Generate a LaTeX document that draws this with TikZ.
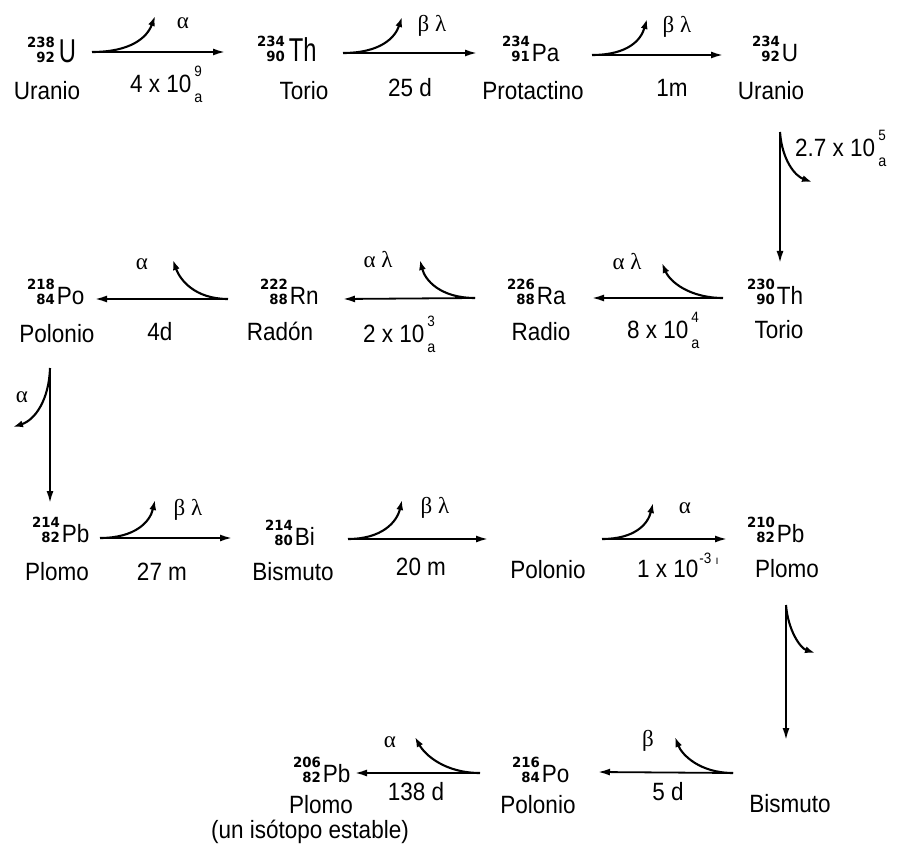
\documentclass[tikz,border=0pt]{standalone}
\usepackage{fontspec}
\usepackage{graphicx}
\usetikzlibrary{arrows.meta}
\setmainfont{Liberation Sans}[FakeStretch=0.9]
\newfontfamily\grkfont{Liberation Serif}
\newfontfamily\scrfont{DejaVu Sans}[FakeStretch=0.95]
\newcommand\nucl[3]{{\scrfont\bfseries\fontsize{14}{15}\selectfont\begin{tabular}[b]{@{}r@{}}#1\\#2\end{tabular}}\hspace{2pt}{\fontsize{25}{28}\selectfont #3}}
\newcommand\nuclbig[3]{{\scrfont\bfseries\fontsize{14}{15}\selectfont\begin{tabular}[b]{@{}r@{}}#1\\#2\end{tabular}}\hspace{4pt}\scalebox{0.8}[1]{\fontsize{33}{36}\selectfont #3}}
\newcommand\supsub[2]{\hspace{3pt}\makebox[0pt][l]{\raisebox{16pt}{\fontsize{15}{15}\selectfont #1}}\raisebox{-10pt}{\fontsize{16}{16}\selectfont #2}}
\tikzset{
  nuc/.style={anchor=base west, inner sep=0pt},
  nm/.style={anchor=base, inner sep=0pt, font=\fontsize{25}{28}\selectfont},
  hl/.style={anchor=base, inner sep=0pt, font=\fontsize{25}{28}\selectfont},
  hlw/.style={anchor=base west, inner sep=0pt, font=\fontsize{25}{28}\selectfont},
  grk/.style={anchor=base, inner sep=0pt, font=\grkfont\fontsize{23}{26}\selectfont},
  arr/.style={line width=1.8pt, -{Latex[length=12pt,width=7pt]}},
  br/.style={line width=2.1pt, -{Latex[length=10pt,width=7pt]}},
}
\begin{document}
\begin{tikzpicture}[x=1pt,y=-1pt]
\useasboundingbox (0,0) rectangle (900,845);
% ---------- nuclides ----------
\node[nuc] (u238)  at (27,63)  {\nuclbig{238}{92}{U}};
\node[nuc] (th234) at (257,62) {\nuclbig{234}{90}{Th}};
\node[nuc] (pa234) at (502,62) {\nucl{234}{91}{Pa}};
\node[nuc] (u234)  at (752,62) {\nucl{234}{92}{U}};
\node[nuc] (th230) at (747,305) {\nucl{230}{90}{Th}};
\node[nuc] (ra226) at (507,305) {\nucl{226}{88}{Ra}};
\node[nuc] (rn222) at (260,305) {\nucl{222}{88}{Rn}};
\node[nuc] (po218) at (27,305) {\nucl{218}{84}{Po}};
\node[nuc] (pb214) at (32,542) {\nucl{214}{82}{Pb}};
\node[nuc] (bi214) at (265,545) {\nucl{214}{80}{Bi}};
\node[nuc] (pb210) at (747,542) {\nucl{210}{82}{Pb}};
\node[nuc] (po216) at (512,782) {\nucl{216}{84}{Po}};
\node[nuc] (pb206) at (293,782) {\nucl{206}{82}{Pb}};
% ---------- names ----------
\node[nm] (n1) at (47,100) {Uranio};
\node[nm] (n2) at (304,100) {Torio};
\node[nm] (n3) at (533,100) {Protactino};
\node[nm] (n4) at (771,100) {Uranio};
\node[nm] (n5) at (779,338) {Torio};
\node[nm] (n6) at (541,340) {Radio};
\node[nm] (n7) at (280,340) {Radón};
\node[nm] (n8) at (57,342) {Polonio};
\node[nm] (n9) at (57,580) {Plomo};
\node[nm] (n10) at (293,580) {Bismuto};
\node[nm] (n11) at (548,578) {Polonio};
\node[nm] (n12) at (787,577) {Plomo};
\node[nm] (n13) at (790,812) {Bismuto};
\node[nm] (n14) at (538,813) {Polonio};
\node[nm] (n15) at (321,813) {Plomo};
\node[nm] (n16) at (310,838) {(un isótopo estable)};
% ---------- half-lives ----------
\node[hlw] (h1) at (130,93) {4 x 10\supsub{9}{a}};
\node[hl] (h2) at (410,97) {25 d};
\node[hl] (h3) at (672,97) {1m};
\node[hlw] (h4) at (795,157) {2.7 x 10\supsub{5}{a}};
\node[hlw] (h5) at (627,338) {8 x 10\supsub{4}{a}};
\node[hlw] (h6) at (363,342) {2 x 10\supsub{3}{a}};
\node[hl] (h7) at (160,340) {4d};
\node[hl] (h8) at (162,580) {27 m};
\node[hl] (h9) at (421,575) {20 m};
\node[hlw] (h10) at (637,577) {1 x 10\hspace{1pt}\raisebox{14pt}{\fontsize{15}{15}\selectfont -3}\hspace{4pt}\raisebox{13pt}{\fontsize{12}{12}\selectfont ı}};
\node[hl] (h11) at (668,800) {5 d};
\node[hl] (h12) at (416,800) {138 d};
% ---------- particle labels ----------
\node[grk] (g1) at (183,29) {α};
\node[grk] (g2) at (432,32) {β λ};
\node[grk] (g3) at (677,33) {β λ};
\node[grk] (g4) at (627,270) {α λ};
\node[grk] (g5) at (378,268) {α λ};
\node[grk] (g6) at (142,270) {α};
\node[grk] (g7) at (22,402) {α};
\node[grk] (g8) at (188,515) {β λ};
\node[grk] (g9) at (435,513) {β λ};
\node[grk] (g10) at (685,513) {α};
\node[grk] (g11) at (648,746) {β};
\node[grk] (g12) at (390,747) {α};
% ---------- arrow coordinates ----------
\coordinate (a1s) at (92,52);   \coordinate (a1e) at (225,52);  \coordinate (b1) at (155,16);
\coordinate (a2s) at (343,53);  \coordinate (a2e) at (477,53);  \coordinate (b2) at (402,17);
\coordinate (a3s) at (592,55);  \coordinate (a3e) at (723,55);  \coordinate (b3) at (647,19);
\coordinate (v1s) at (780,132); \coordinate (v1e) at (780,263); \coordinate (c1) at (812,182);
\coordinate (a4s) at (723,298); \coordinate (a4e) at (592,298); \coordinate (b4) at (662,263);
\coordinate (a5s) at (475,298); \coordinate (a5e) at (343,299); \coordinate (b5) at (420,260);
\coordinate (a6s) at (228,299); \coordinate (a6e) at (95,299);  \coordinate (b6) at (173,260);
\coordinate (v2s) at (50,368);  \coordinate (v2e) at (50,503);  \coordinate (c2) at (13,427);
\coordinate (a7s) at (100,538); \coordinate (a7e) at (232,538); \coordinate (b7) at (155,500);
\coordinate (a8s) at (348,539); \coordinate (a8e) at (488,539); \coordinate (b8) at (402,500);
\coordinate (a9s) at (602,539); \coordinate (a9e) at (727,539); \coordinate (b9) at (653,503);
\coordinate (v3s) at (786,605); \coordinate (v3e) at (786,740); \coordinate (c3) at (815,653);
\coordinate (a10s) at (733,773); \coordinate (a10e) at (598,772); \coordinate (b10) at (675,737);
\coordinate (a11s) at (480,773); \coordinate (a11e) at (355,773); \coordinate (b11) at (415,737);
% ---------- arrows ----------
\draw[arr] (a1s) -- (a1e);
\draw[br] (a1s) .. controls (130,52) and (147,38) .. (b1);
\draw[arr] (a2s) -- (a2e);
\draw[br] (a2s) .. controls (380,53) and (395,38) .. (b2);
\draw[arr] (a3s) -- (a3e);
\draw[br] (a3s) .. controls (628,55) and (641,40) .. (b3);
\draw[arr] (v1s) -- (v1e);
\draw[br] (v1s) .. controls (782,160) and (795,176) .. (c1);
\draw[arr] (a4s) -- (a4e);
\draw[br] (a4s) .. controls (690,298) and (670,282) .. (b4);
\draw[arr] (a5s) -- (a5e);
\draw[br] (a5s) .. controls (440,298) and (425,280) .. (b5);
\draw[arr] (a6s) -- (a6e);
\draw[br] (a6s) .. controls (195,299) and (180,280) .. (b6);
\draw[arr] (v2s) -- (v2e);
\draw[br] (v2s) .. controls (49,400) and (35,420) .. (c2);
\draw[arr] (a7s) -- (a7e);
\draw[br] (a7s) .. controls (135,538) and (150,522) .. (b7);
\draw[arr] (a8s) -- (a8e);
\draw[br] (a8s) .. controls (382,539) and (397,522) .. (b8);
\draw[arr] (a9s) -- (a9e);
\draw[br] (a9s) .. controls (635,539) and (648,524) .. (b9);
\draw[arr] (v3s) -- (v3e);
\draw[br] (v3s) .. controls (788,630) and (800,648) .. (c3);
\draw[arr] (a10s) -- (a10e);
\draw[br] (a10s) .. controls (700,773) and (682,755) .. (b10);
\draw[arr] (a11s) -- (a11e);
\draw[br] (a11s) .. controls (445,773) and (425,755) .. (b11);
\end{tikzpicture}
\end{document}
